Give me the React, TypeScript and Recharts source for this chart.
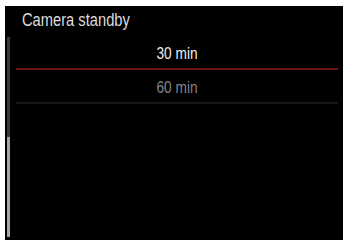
import { Bar, BarChart, XAxis, YAxis } from 'recharts'

const menuTitle = 'Camera standby'
const options = ['30 min', '60 min']
const selected = ['30 min']

const rows = options.map((label) => ({ label, v: 1, active: selected.includes(label) }))

const font = '"Liberation Sans", Arial, sans-serif'

function Row(props: any) {
  const { x, y, width, height, payload } = props
  const lineY = y + height
  const cx = x + width / 2
  const base = y + height / 2 + 6.6
  return (
    <g>
      <text
        transform={`translate(${cx},${base}) scale(0.84,1)`}
        textAnchor='middle'
        fontFamily={font}
        fontSize={16.3}
        fill={payload.active ? '#ececec' : '#858585'}
      >
        {payload.label}
      </text>
      <line
        x1={x}
        x2={x + width}
        y1={lineY}
        y2={lineY}
        stroke={payload.active ? '#8e1b1e' : '#2e2e2e'}
        strokeWidth={payload.active ? 1.5 : 1.2}
      />
    </g>
  )
}

export default function App() {
  return (
    <div style={{ position: 'absolute', left: 0, top: 0, width: 343, height: 240, background: '#fff', overflow: 'hidden' }}>
      <div style={{ position: 'absolute', left: 5, top: 6, width: 338, height: 234, background: '#000' }} />
      <div
        style={{
          position: 'absolute',
          left: 22,
          top: 9,
          fontFamily: font,
          fontSize: 17.5,
          lineHeight: '22px',
          color: '#dcdcdc',
          whiteSpace: 'nowrap',
          transform: 'scaleX(0.84)',
          transformOrigin: 'left top',
        }}
      >
        {menuTitle}
      </div>
      <div style={{ position: 'absolute', left: 7, top: 37, width: 3, height: 100, background: '#3a3a3a' }} />
      <div style={{ position: 'absolute', left: 7, top: 137, width: 3, height: 100, background: '#a5a5a5' }} />
      <div style={{ position: 'absolute', left: 0, top: 0 }}>
        <BarChart
          width={343}
          height={240}
          data={rows}
          layout='vertical'
          margin={{ top: 35, right: 5, bottom: 137, left: 16 }}
          barCategoryGap={0}
        >
          <XAxis type='number' domain={[0, 1]} hide />
          <YAxis type='category' dataKey='label' hide />
          <Bar dataKey='v' shape={Row} isAnimationActive={false} />
        </BarChart>
      </div>
    </div>
  )
}
